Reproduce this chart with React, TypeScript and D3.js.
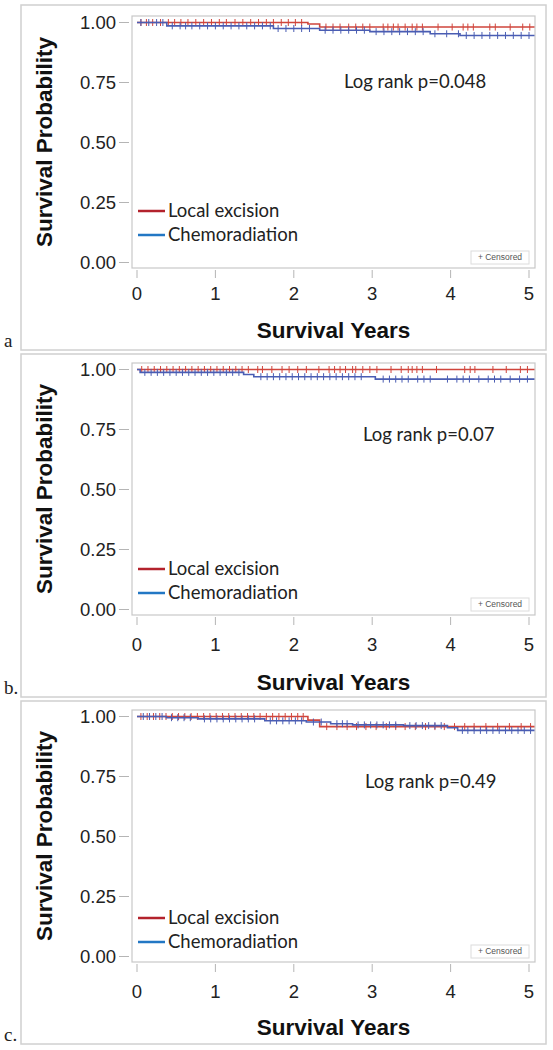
import React from "react";
import * as d3 from "d3";

// ---------- data ----------
const PANEL_LABELS = ["a", "b.", "c."];
const LOG_RANK = ["Log rank p=0.048", "Log rank p=0.07", "Log rank p=0.49"];
const SERIES_NAMES = ["Local excision", "Chemoradiation"];
const X_TICKS = [0, 1, 2, 3, 4, 5];
const Y_TICKS = [0, 0.25, 0.5, 0.75, 1];
const Y_TICK_LABELS = ["0.00", "0.25", "0.50", "0.75", "1.00"];
const X_TITLE = "Survival Years";
const Y_TITLE = "Survival Probability";
const MAX_TIME = 5.07;

// Panel a
const A_LE_T = [0, 2.18, 2.33];
const A_LE_S = [1, 0.994, 0.981];
const A_CR_T = [0, 0.38, 1.74, 2.33, 2.97, 3.74, 4.12];
const A_CR_S = [1, 0.986, 0.975, 0.968, 0.962, 0.953, 0.946];
const A_LE_C = [0.05, 0.12, 0.2, 0.3, 0.4, 0.48, 0.56, 0.65, 0.75, 0.85, 0.95, 1.05, 1.14, 1.25, 1.35, 1.45, 1.55, 1.65, 1.74, 1.84, 1.93, 2.02, 2.1, 2.41, 2.5, 2.59, 2.7, 2.79, 2.88, 2.97, 3.14, 3.2, 3.27, 3.33, 3.42, 3.51, 3.57, 3.64, 3.84, 4.02, 4.16, 4.22, 4.29, 4.5, 4.57, 4.76, 4.92, 5.01];
const A_CR_C = [0.05, 0.15, 0.25, 0.33, 0.45, 0.55, 0.62, 0.7, 0.8, 0.9, 1.0, 1.1, 1.2, 1.3, 1.4, 1.5, 1.6, 1.7, 1.8, 1.9, 2.0, 2.1, 2.2, 2.4, 2.5, 2.6, 2.7, 2.8, 2.9, 3.05, 3.15, 3.25, 3.35, 3.45, 3.55, 3.65, 3.8, 3.95, 4.1, 4.2, 4.3, 4.4, 4.5, 4.6, 4.7, 4.8, 4.9, 5.0];

// Panel b
const B_LE_T = [0];
const B_LE_S = [1];
const B_CR_T = [0, 0.04, 1.36, 1.49, 3.04];
const B_CR_S = [1, 0.988, 0.979, 0.97, 0.96];
const B_LE_C = [0.06, 0.14, 0.22, 0.3, 0.38, 0.46, 0.54, 0.62, 0.7, 0.78, 0.86, 0.94, 1.02, 1.1, 1.18, 1.26, 1.34, 1.42, 1.54, 1.6, 1.72, 1.85, 1.94, 2.05, 2.16, 2.32, 2.45, 2.52, 2.59, 2.66, 2.75, 2.79, 2.88, 2.97, 3.06, 3.24, 3.37, 3.46, 3.51, 3.57, 3.64, 3.82, 4.18, 4.25, 4.31, 4.54, 4.71, 4.89, 4.98];
const B_CR_C = [0.1, 0.18, 0.26, 0.34, 0.42, 0.5, 0.58, 0.66, 0.74, 0.82, 0.9, 0.98, 1.06, 1.14, 1.22, 1.3, 1.58, 1.66, 1.74, 1.82, 1.9, 1.98, 2.06, 2.14, 2.22, 2.3, 2.38, 2.46, 2.54, 2.62, 2.7, 2.78, 2.86, 3.14, 3.22, 3.3, 3.38, 3.46, 3.58, 3.66, 3.74, 3.96, 4.08, 4.16, 4.24, 4.36, 4.48, 4.56, 4.64, 4.76, 4.88, 4.98];

// Panel c
const C_LE_T = [0, 2.18, 2.33];
const C_LE_S = [1, 0.985, 0.958];
const C_CR_T = [0, 0.375, 0.78, 1.63, 2.16, 2.47, 2.75, 3.4, 3.96, 4.09];
const C_CR_S = [1, 0.995, 0.99, 0.982, 0.977, 0.97, 0.965, 0.962, 0.953, 0.942];
const C_LE_C = [0.05, 0.13, 0.21, 0.29, 0.37, 0.45, 0.53, 0.61, 0.69, 0.77, 0.85, 0.93, 1.01, 1.09, 1.17, 1.25, 1.33, 1.41, 1.49, 1.57, 1.65, 1.73, 1.81, 1.89, 1.97, 2.05, 2.12, 2.42, 2.55, 2.68, 2.8, 2.92, 3.05, 3.18, 3.3, 3.42, 3.55, 3.68, 3.8, 3.92, 4.05, 4.18, 4.3, 4.45, 4.6, 4.75, 4.9, 5.02];
const C_CR_C = [0.08, 0.16, 0.24, 0.32, 0.44, 0.52, 0.6, 0.68, 0.86, 0.94, 1.02, 1.1, 1.18, 1.26, 1.34, 1.42, 1.5, 1.7, 1.78, 1.86, 1.94, 2.02, 2.1, 2.25, 2.35, 2.55, 2.62, 2.68, 2.82, 2.9, 2.98, 3.06, 3.14, 3.22, 3.3, 3.48, 3.56, 3.64, 3.72, 3.8, 3.88, 4.15, 4.22, 4.3, 4.38, 4.46, 4.54, 4.62, 4.7, 4.78, 4.86, 4.94, 5.02];

const PANELS = [
  { le: [A_LE_T, A_LE_S, A_LE_C], cr: [A_CR_T, A_CR_S, A_CR_C] },
  { le: [B_LE_T, B_LE_S, B_LE_C], cr: [B_CR_T, B_CR_S, B_CR_C] },
  { le: [C_LE_T, C_LE_S, C_LE_C], cr: [C_CR_T, C_CR_S, C_CR_C] },
];

// ---------- layout ----------
const W = 553;
const H = 1050;
const PANEL_H = 347;
const FRAME = { left: 132, right: 535, top: 16, bottom: 268 };
const LAYOUT = [
  { tickY: 300, titleY: 338, legendY: 211, logX: 344, logY: 82 },
  { tickY: 304, titleY: 343, legendY: 222, logX: 363, logY: 88 },
  { tickY: 304, titleY: 341, legendY: 224, logX: 365, logY: 88 },
];

const RED_LINE = "#d0453c";
const BLUE_LINE = "#4a5db3";
const RED_LEG = "#b3222c";
const BLUE_LEG = "#2277c4";
const GRID_GRAY = "#c8c8c8";
const AXIS_FONT = "'Liberation Sans', Arial, sans-serif";
const TEXT_FONT = "Lato, 'Open Sans', sans-serif";

const x = d3.scaleLinear().domain([0, 5]).range([137, 529]);
const y = d3.scaleLinear().domain([0, 1]).range([262.5, 22.5]);

function survAt(times: number[], surv: number[], t: number) {
  let s = surv[0];
  for (let i = 0; i < times.length; i++) if (times[i] <= t) s = surv[i];
  return s;
}

const stepLine = d3
  .line<[number, number]>()
  .x((d) => x(d[0]))
  .y((d) => y(d[1]))
  .curve(d3.curveStepAfter);

function Curve({ data, color }: { data: number[][]; color: string }) {
  const [times, surv, cens] = data;
  const pts: [number, number][] = times.map((t, i) => [t, surv[i]]);
  pts.push([MAX_TIME, surv[surv.length - 1]]);
  return (
    <g>
      <path d={stepLine(pts) || ""} fill="none" stroke={color} strokeWidth={1.6} />
      {cens.map((t, i) => {
        const s = survAt(times, surv, t);
        return (
          <line
            key={i}
            x1={x(t)}
            x2={x(t)}
            y1={y(s) - 3.5}
            y2={y(s) + 3.5}
            stroke={color}
            strokeWidth={1}
          />
        );
      })}
    </g>
  );
}

function Panel({ idx }: { idx: number }) {
  const oy = idx * PANEL_H;
  const L = LAYOUT[idx];
  const p = PANELS[idx];
  const cx = (FRAME.left + FRAME.right) / 2;
  const cy = (FRAME.top + FRAME.bottom) / 2;
  return (
    <g transform={`translate(0,${oy})`}>
      <rect x={21} y={idx === 0 ? 5 : 7} width={525} height={idx === 0 ? 345 : 343} fill="none" stroke="#d0d0d0" strokeWidth={1.5} />
      <text x={4} y={347} fontFamily="'Liberation Serif', 'Times New Roman', serif" fontSize={19} fill="#222">
        {PANEL_LABELS[idx]}
      </text>
      <rect
        x={FRAME.left}
        y={FRAME.top}
        width={FRAME.right - FRAME.left}
        height={FRAME.bottom - FRAME.top}
        fill="#fff"
        stroke={GRID_GRAY}
        strokeWidth={1.2}
      />
      {Y_TICKS.map((v, i) => (
        <g key={i}>
          <line x1={119} x2={129} y1={y(v)} y2={y(v)} stroke="#b5b5b5" strokeWidth={1} />
          <text x={116} y={y(v)} dy="0.36em" textAnchor="end" fontFamily={AXIS_FONT} fontSize={18.5} fill="#222">
            {Y_TICK_LABELS[i]}
          </text>
        </g>
      ))}
      {X_TICKS.map((v, i) => (
        <g key={i}>
          <line x1={x(v)} x2={x(v)} y1={270} y2={278} stroke="#b5b5b5" strokeWidth={1} />
          <text x={x(v)} y={L.tickY} textAnchor="middle" fontFamily={AXIS_FONT} fontSize={18.5} fill="#222">
            {v}
          </text>
        </g>
      ))}
      <text x={cx} y={L.titleY} textAnchor="middle" fontFamily={AXIS_FONT} fontWeight="bold" fontSize={22.5} fill="#111">
        {X_TITLE}
      </text>
      <text
        transform={`translate(52,${cy}) rotate(-90)`}
        textAnchor="middle"
        fontFamily={AXIS_FONT}
        fontWeight="bold"
        fontSize={22.5}
        fill="#111"
      >
        {Y_TITLE}
      </text>
      <Curve data={p.le} color={RED_LINE} />
      <Curve data={p.cr} color={BLUE_LINE} />
      <text x={L.logX} y={L.logY} dy="0.35em" fontFamily={TEXT_FONT} fontSize={18.5} fill="#222">
        {LOG_RANK[idx]}
      </text>
      {SERIES_NAMES.map((name, i) => {
        const ly = L.legendY + i * 24;
        return (
          <g key={name}>
            <line x1={138} x2={165} y1={ly} y2={ly} stroke={i === 0 ? RED_LEG : BLUE_LEG} strokeWidth={2.5} />
            <text x={168} y={ly} dy="0.35em" fontFamily={TEXT_FONT} fontSize={18.5} fill="#222">
              {name}
            </text>
          </g>
        );
      })}
      <rect x={471} y={251} width={58} height={13} fill="#fff" stroke="#dcdcdc" strokeWidth={1} />
      <text x={500} y={257.5} dy="0.35em" textAnchor="middle" fontFamily={AXIS_FONT} fontSize={8.5} fill="#555">
        + Censored
      </text>
    </g>
  );
}

export default function App() {
  return (
    <svg
      width={W}
      height={H}
      viewBox={`0 0 ${W} ${H}`}
      style={{ position: "absolute", left: 0, top: 0, background: "#fff" }}
    >
      <rect x={0} y={0} width={W} height={H} fill="#fff" />
      {PANEL_LABELS.map((_, i) => (
        <Panel key={i} idx={i} />
      ))}
    </svg>
  );
}
